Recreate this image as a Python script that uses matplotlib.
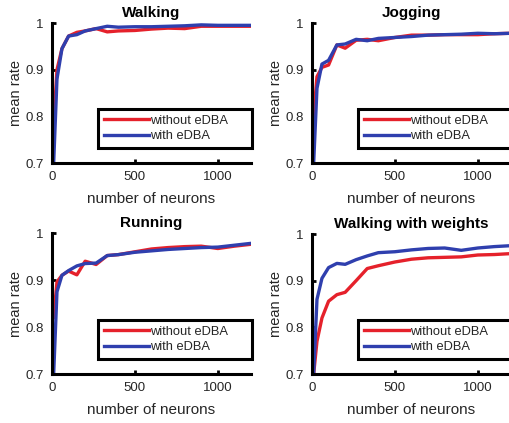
import matplotlib
matplotlib.use("Agg")
import matplotlib.pyplot as plt

plt.rcParams['font.family'] = ['Liberation Sans', 'DejaVu Sans']

neurons = [10, 30, 60, 100, 150, 200, 266, 333, 400, 500, 600, 700, 800, 900, 1000, 1100, 1200]

titles = ["Walking", "Jogging", "Running", "Walking with weights"]

walking_without = [0.78, 0.90, 0.945, 0.972, 0.980, 0.983, 0.988, 0.981, 0.983, 0.984, 0.987, 0.989, 0.988, 0.993, 0.993, 0.993, 0.993]
walking_with = [0.70, 0.88, 0.945, 0.972, 0.975, 0.983, 0.988, 0.993, 0.991, 0.992, 0.992, 0.993, 0.994, 0.996, 0.995, 0.995, 0.995]

jogging_without = [0.80, 0.885, 0.905, 0.91, 0.953, 0.946, 0.963, 0.965, 0.962, 0.969, 0.974, 0.974, 0.975, 0.975, 0.975, 0.977, 0.978]
jogging_with = [0.70, 0.86, 0.912, 0.92, 0.953, 0.955, 0.965, 0.962, 0.967, 0.969, 0.971, 0.974, 0.975, 0.976, 0.978, 0.977, 0.978]

running_without = [0.82, 0.896, 0.91, 0.919, 0.911, 0.94, 0.933, 0.952, 0.954, 0.960, 0.966, 0.969, 0.971, 0.972, 0.967, 0.972, 0.976]
running_with = [0.70, 0.875, 0.91, 0.92, 0.93, 0.935, 0.936, 0.952, 0.954, 0.959, 0.962, 0.965, 0.967, 0.969, 0.970, 0.974, 0.978]

weights_without = [0.70, 0.77, 0.82, 0.856, 0.870, 0.875, 0.90, 0.926, 0.932, 0.940, 0.946, 0.949, 0.950, 0.951, 0.955, 0.956, 0.958]
weights_with = [0.70, 0.86, 0.905, 0.928, 0.937, 0.935, 0.945, 0.953, 0.960, 0.962, 0.966, 0.969, 0.970, 0.965, 0.970, 0.973, 0.975]

series_without = [walking_without, jogging_without, running_without, weights_without]
series_with = [walking_with, jogging_with, running_with, weights_with]

legend_labels = ["without eDBA", "with eDBA"]
xticks = [0, 500, 1000]
xticklabels = ["0", "500", "1000"]
yticks = [0.7, 0.8, 0.9, 1.0]
yticklabels = ["0.7", "0.8", "0.9", "1"]

W, H = 510, 423
fig = plt.figure(figsize=(W / 100, H / 100), dpi=100)

rects = [
    (52, 23, 251, 163),
    (312, 23, 511, 163),
    (52, 233, 251, 374),
    (312, 234, 511, 374),
]

RED = "#e5212b"
BLUE = "#2f3fae"
TXT = "#262626"

for i, (l, t, r, b) in enumerate(rects):
    ax = fig.add_axes([l / W, 1 - b / H, (r - l) / W, (b - t) / H])
    ax.plot(neurons, series_without[i], color=RED, lw=2.4, label=legend_labels[0])
    ax.plot(neurons, series_with[i], color=BLUE, lw=2.4, label=legend_labels[1])
    ax.set_xlim(0, 1200)
    ax.set_ylim(0.7, 1.0)
    ax.set_xticks(xticks)
    ax.set_xticklabels(xticklabels)
    ax.set_yticks(yticks)
    ax.set_yticklabels(yticklabels)
    for s in ["top", "right"]:
        ax.spines[s].set_visible(False)
    for s in ["left", "bottom"]:
        ax.spines[s].set_linewidth(2.2)
        ax.spines[s].set_color("black")
    ax.tick_params(direction="in", length=3, width=2, colors="black",
                   labelcolor=TXT, labelsize=9.5, pad=6)
    ax.set_xlabel("number of neurons", fontsize=11, color=TXT, labelpad=6.5)
    ax.set_ylabel("mean rate", fontsize=10.5, color=TXT, labelpad=2)
    ax.set_title(titles[i], fontsize=11, fontweight="bold", color="black", pad=4)
    axw = r - l
    axh = b - t
    x0 = (98 - 52) / axw
    wl = (252 - 98) / axw
    y0 = (163 - 148) / axh
    hl = (148 - 107) / axh
    leg = ax.legend(loc="lower left", bbox_to_anchor=(x0, y0, wl, hl), mode="expand",
                    borderaxespad=0, fontsize=9.3, handlelength=3.5, handletextpad=0.1,
                    labelspacing=0.25, borderpad=0.45, fancybox=False,
                    framealpha=1, edgecolor="black")
    leg.get_frame().set_linewidth(2.2)
    for txt in leg.get_texts():
        txt.set_color(TXT)

fig.savefig("out.png", dpi=100)
